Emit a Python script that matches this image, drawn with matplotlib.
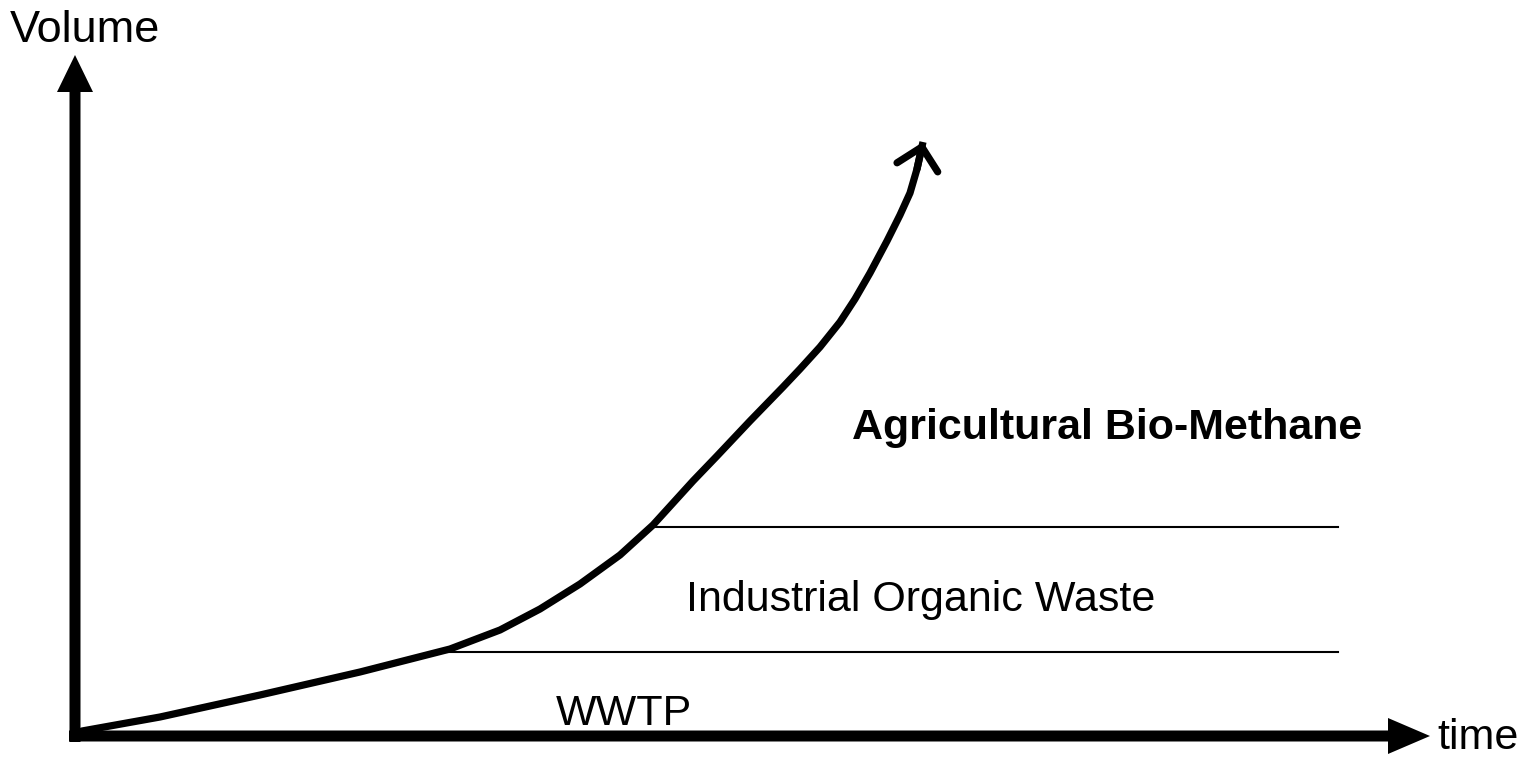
import matplotlib
matplotlib.use("Agg")
import matplotlib.pyplot as plt

plt.rcParams['font.family'] = ['Liberation Sans', 'DejaVu Sans']

# growth curve (pixel-like units, y grows downward)
curve_x = [75, 82, 160, 260, 360, 450, 500, 540, 580, 620, 653, 693, 717, 750, 783, 800, 820,
           840, 855, 870, 887, 900, 910, 917, 923]
curve_y = [735, 731, 717, 695, 672, 649, 630, 609, 584, 555, 525, 481, 456, 421, 387, 369, 347,
           322, 299, 273, 241, 215, 193, 169, 142]

# boundaries between sources
band_y = [652, 527]
band_x0 = [445, 652]
band_x1 = [1338, 1338]

labels = ["WWTP", "Industrial Organic Waste", "Agricultural Bio-Methane"]
label_x = [556, 686, 852]
label_y = [714, 600, 428]
label_weight = ["normal", "normal", "bold"]

fig = plt.figure(figsize=(15.3, 7.57), dpi=100)
ax = fig.add_axes([0, 0, 1, 1])
ax.set_xlim(0, 1530)
ax.set_ylim(757, 0)
ax.axis("off")

# axes arrows
ax.arrow(75, 742, 0, 55 - 742, width=11, head_width=36, head_length=37,
         length_includes_head=True, color="black", lw=0)
ax.arrow(69, 736, 1430 - 69, 0, width=11, head_width=36, head_length=42,
         length_includes_head=True, color="black", lw=0)
ax.text(10, 30, "Volume", fontsize=32.5, va="center", ha="left")
ax.text(1437, 738, "time", fontsize=31, va="center", ha="left")

# band lines
for y, x0, x1 in zip(band_y, band_x0, band_x1):
    ax.plot([x0, x1], [y, y], color="black", lw=1.5)

# curve
ax.plot(curve_x, curve_y, color="black", lw=5.2, solid_joinstyle="round", solid_capstyle="butt")
ax.annotate("", xy=(curve_x[-1], curve_y[-1]), xytext=(curve_x[-2], curve_y[-2]),
            arrowprops=dict(arrowstyle="->,head_length=0.75,head_width=0.75", lw=5.2,
                            mutation_scale=20, shrinkA=0, shrinkB=0, color="black"))

for t, x, y, w in zip(labels, label_x, label_y, label_weight):
    ax.text(x, y, t, fontsize=31, fontweight=w, va="center", ha="left")

fig.savefig("out.png", dpi=100)
